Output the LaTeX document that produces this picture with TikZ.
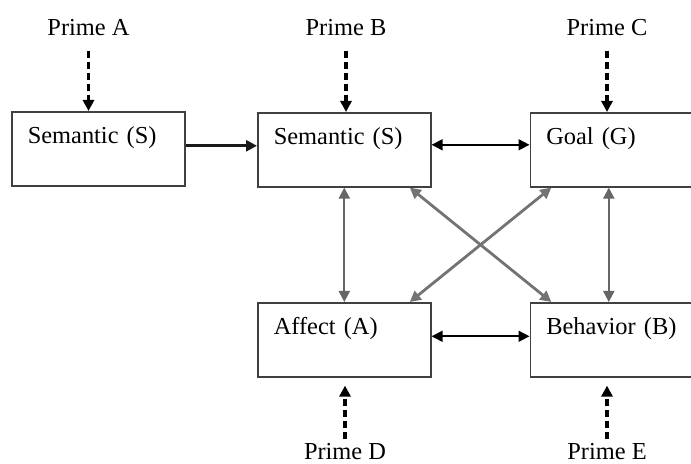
\documentclass[tikz,border=0pt]{standalone}
\usepackage{fontspec}
\setmainfont{Liberation Serif}
\usepackage{tikz}
\usetikzlibrary{arrows.meta, calc, positioning}

\begin{document}
\begin{tikzpicture}[
    x=0.5pt, y=-0.5pt,
    box/.style={draw=black!75, line width=0.8pt, anchor=north west, text width=70.5pt,
                inner xsep=8pt, inner ysep=0pt, text height=16pt, text depth=21pt,
                align=left, font=\fontsize{12.2}{14}\selectfont},
    prime/.style={inner sep=0pt, anchor=base, font=\fontsize{12.2}{14}\selectfont},
    tip/.style={-{Triangle[length=5.5pt, width=5.5pt]}},
    primearrow/.style={tip, line width=1.7pt, dash pattern=on 3.5pt off 2pt},
    mainarrow/.style={tip, line width=1.5pt, draw=black!90},
    link/.style={{Triangle[length=5.5pt, width=5.5pt]}-{Triangle[length=5.5pt, width=5.5pt]}, line width=0.8pt},
    vlink/.style={link, draw=black!60, line width=1pt},
    xlink/.style={link, draw=black!55, line width=1.4pt},
]
\path[use as bounding box, clip] (0,0) rectangle (691,464);

\node[box] (semA) at (11,111) {Semantic (S)};
\node[box] (semB) at (257,112) {Semantic (S)};
\node[box] (goal) at (529.5,112) {Goal (G)};
\node[box] (affect) at (257,302) {Affect (A)};
\node[box] (behav) at (529.5,302) {Behavior (B)};

\node[prime] (primeA) at (88.5,36) {Prime A};
\node[prime] (primeB) at (346,36) {Prime B};
\node[prime] (primeC) at (607,36) {Prime C};
\node[prime] (primeD) at (345,460) {Prime D};
\node[prime] (primeE) at (607,460) {Prime E};

\draw[primearrow, shorten <=7pt] (primeA.south) -- (primeA.south |- semA.north);
\draw[primearrow, shorten <=7pt] (primeB.south) -- (primeB.south |- semB.north);
\draw[primearrow, shorten <=7pt] (primeC.south) -- (primeC.south |- goal.north);
\draw[primearrow, shorten <=2pt, shorten >=4pt] (primeD.north) -- (primeD.north |- affect.south);
\draw[primearrow, shorten <=2pt, shorten >=4pt] (primeE.north) -- (primeE.north |- behav.south);

\draw[mainarrow] ([yshift=1.5pt]semA.east) -- ([yshift=1.5pt]semA.east -| semB.west);
\draw[link] ([yshift=2.5pt]semB.east) -- ([yshift=2.5pt]goal.west);
\draw[link] ([yshift=1.75pt]affect.east) -- ([yshift=1.75pt]behav.west);
\draw[vlink] (semB.south) -- (affect.north);
\draw[vlink] ([xshift=-4pt]goal.south) -- ([xshift=-4pt]behav.north);
\draw[xlink] (semB.-30) -- (behav.150);
\draw[xlink] (affect.30) -- (goal.210);
\end{tikzpicture}
\end{document}
